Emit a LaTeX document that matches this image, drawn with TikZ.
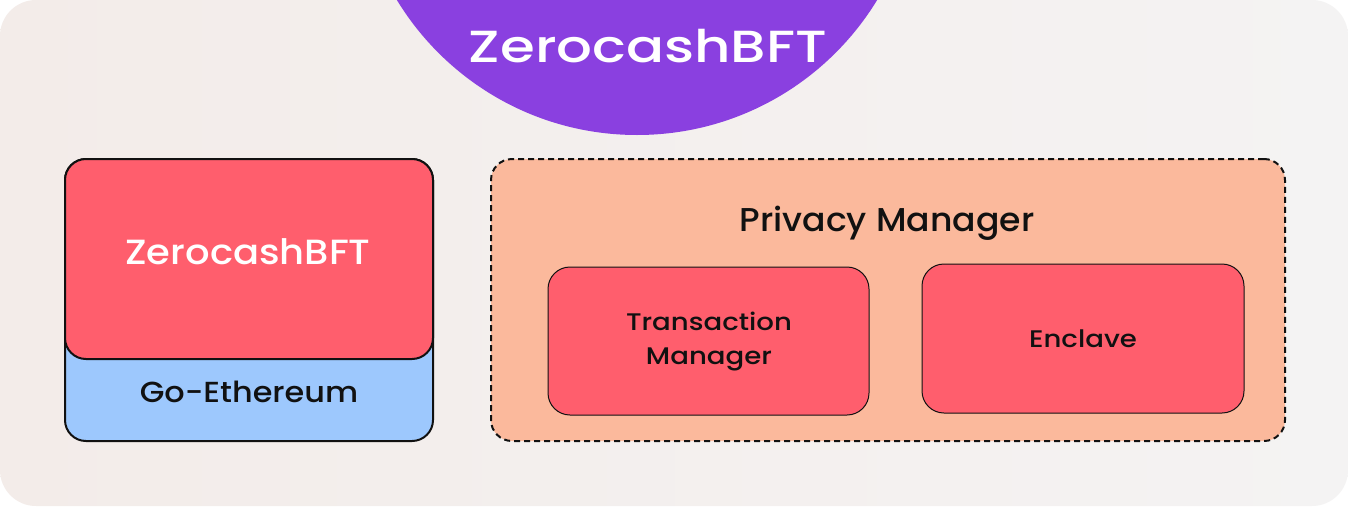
\documentclass[tikz,border=0pt]{standalone}
\usepackage{fontspec}
\setmainfont{Poppins}[UprightFont=* Medium,FakeStretch=1.05]
\newfontfamily\widefont{Poppins}[UprightFont=* Medium,FakeStretch=1.25]
\newfontfamily\midfont{Poppins}[UprightFont=* Medium,FakeStretch=1.1]
\newfontfamily\partfont{Poppins}[UprightFont=* Medium,FakeStretch=1.15]
\usetikzlibrary{positioning}
\definecolor{bgleft}{HTML}{F3ECE9}
\definecolor{bgright}{HTML}{F4F3F3}
\definecolor{zcpurple}{HTML}{8A40E0}
\definecolor{zcred}{HTML}{FF5E6D}
\definecolor{gethblue}{HTML}{9DC8FD}
\definecolor{pmpeach}{HTML}{FBB99C}
\definecolor{ink}{HTML}{111111}

\begin{document}
\begin{tikzpicture}[x=1pt,y=-1pt,
        layerbox/.style={draw=ink,line width=2pt,rounded corners=21pt,inner sep=0pt},
        partbox/.style={draw=ink,line width=1pt,fill=zcred,rounded corners=22pt,inner sep=0pt,
            minimum width=321pt,minimum height=148pt,font=\partfont\fontsize{24}{34}\selectfont,
            align=center,text=ink}]
        \useasboundingbox (0,0) rectangle (1348,506);
        \fill[white] (0,0) rectangle (1348,506);
        \shade[left color=bgleft,right color=bgright,rounded corners=36pt] (0,0) rectangle (1348,506);

        %header
        \begin{scope}
        \clip (0,0) rectangle (1348,506);
        \fill[zcpurple] (637,-146) circle (281pt);
        \end{scope}
        \node[text=white,font=\widefont\fontsize{45}{52}\selectfont] (title) at (648,46) {ZerocashBFT};

        %node stack
        \node[layerbox,fill=gethblue,minimum width=368pt,minimum height=282pt] (geth) at (249,300) {};
        \node[layerbox,fill=zcred,minimum width=368pt,minimum height=200pt] (zc) at (249,259) {};
        \node[text=white,font=\midfont\fontsize{35}{42}\selectfont] (zclabel) at (248,252) {ZerocashBFT};
        \node[text=ink,font=\midfont\fontsize{29}{35}\selectfont] (gethlabel) at (249,392) {Go-Ethereum};

        %privacy manager
        \node[draw=ink,line width=2pt,dash pattern=on 6pt off 4pt,fill=pmpeach,rounded corners=21pt,
            minimum width=794pt,minimum height=282pt] (pm) at (888,300) {};
        \node[text=ink,font=\fontsize{33}{40}\selectfont] (pmlabel) at (887,223) {Privacy Manager};
        \node[partbox] (tm) at (708.5,341) {};
        \node[align=center,text=ink,font=\partfont\fontsize{24}{34}\selectfont] (tmlabel) at (709,341.5) {Transaction\\Manager};
        \node[partbox,minimum width=322pt,minimum height=149pt] (enclave) at (1083,338.5) {Enclave};
        \end{tikzpicture}
\end{document}
